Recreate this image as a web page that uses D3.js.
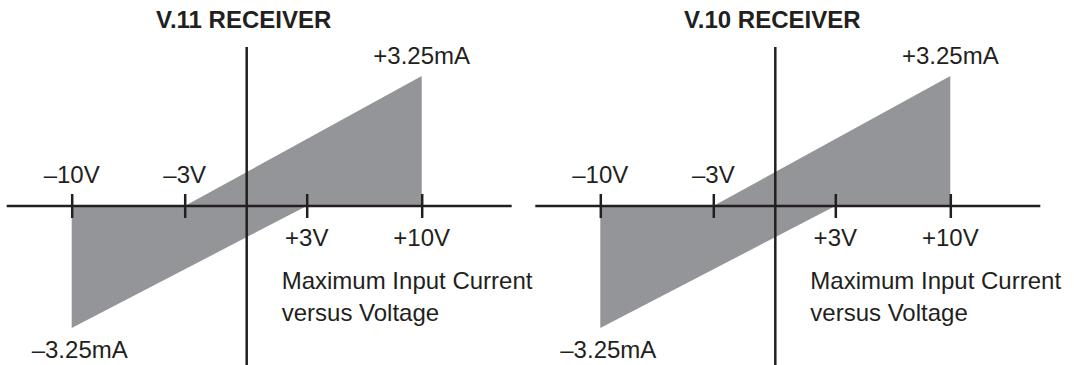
<!DOCTYPE html>
<html>
<head>
<meta charset="utf-8">
<script src="https://cdn.jsdelivr.net/npm/d3@7"></script>
<style>
  body { margin: 0; background: #fff; }
  text { font-family: "Liberation Sans", Arial, Helvetica, sans-serif; fill: #231f20; }
</style>
</head>
<body>
<div id="chart"></div>
<script>
// Data
const panelTitles = ['V.11 RECEIVER', 'V.10 RECEIVER']
const tickVolts = [-10, -3, 3, 10]
const tickLabels = ['\u201310V', '\u20133V', '+3V', '+10V']
// shaded region: between the line (-3V,0)->(10V,+3.25mA) and (-10V,-3.25mA)->(3V,0)
const regionVolts = [-10, -3, 10, 10, 3, -10]
const regionCurrent = [0, 0, 3.25, 0, 0, -3.25]
const currentMarks = [
  { v: 10, label: '+3.25mA' },
  { v: -10, label: '\u20133.25mA' }
]
const noteLines = ['Maximum Input Current', 'versus Voltage']

function draw() {
  let dimensions = { width: 1074, height: 365 }
  const ink = '#231f20'
  const grey = '#939598'

  const svg = d3.select('#chart')
    .append('svg')
    .attr('width', dimensions.width)
    .attr('height', dimensions.height)

  // the drawing is not to scale: 3V sits further out than 3/10 of 10V
  const xScale = d3.scaleLinear()
    .domain([-10, -3, 0, 3, 10])
    .range([-175, -62, 0, 60, 175])
  const yScale = d3.scaleLinear()
    .domain([-3.25, 0, 3.25])
    .range([328, 206, 76])

  const panelX = [246.7, 775.3]
  const region = regionVolts.map((v, i) => [v, regionCurrent[i]])

  panelTitles.forEach((title, p) => {
    const ctr = svg.append('g')
      .attr('transform', `translate(${panelX[p]}, 0)`)

    // shaded area
    ctr.append('path')
      .datum(region)
      .attr('d', d3.line().x(d => xScale(d[0])).y(d => yScale(d[1])).curve(d3.curveLinearClosed))
      .attr('fill', grey)

    // horizontal axis
    const y0 = yScale(0)
    ctr.append('line')
      .attr('x1', -240).attr('x2', 265)
      .attr('y1', y0).attr('y2', y0)
      .attr('stroke', ink).attr('stroke-width', 2.5)
    // vertical axis
    ctr.append('line')
      .attr('x1', xScale(0)).attr('x2', xScale(0))
      .attr('y1', 47).attr('y2', 365)
      .attr('stroke', ink).attr('stroke-width', 2.5)

    // tick marks crossing the axis
    const axis = d3.axisBottom(xScale)
      .tickValues(tickVolts)
      .tickSize(24)
      .tickFormat('')
    const ax = ctr.append('g')
      .attr('transform', `translate(0, ${y0 - 12})`)
      .call(axis)
    ax.select('.domain').remove()
    ax.selectAll('.tick line').attr('stroke', ink).attr('stroke-width', 2.5)

    // tick labels: negatives above, positives below
    ctr.selectAll('.vlabel')
      .data(tickVolts)
      .join('text')
      .attr('class', 'vlabel')
      .attr('x', d => xScale(d))
      .attr('y', d => d < 0 ? y0 - 23 : y0 + 40)
      .attr('text-anchor', 'middle')
      .attr('font-size', 24)
      .text((d, i) => tickLabels[i])

    // current labels at the corners
    ctr.selectAll('.ilabel')
      .data(currentMarks)
      .join('text')
      .attr('class', 'ilabel')
      .attr('x', d => xScale(d.v) + (d.v < 0 ? 8 : 0))
      .attr('y', d => d.v > 0 ? yScale(3.25) - 12 : yScale(-3.25) + 30)
      .attr('text-anchor', 'middle')
      .attr('font-size', 24)
      .text(d => d.label)

    // note
    ctr.selectAll('.note')
      .data(noteLines)
      .join('text')
      .attr('class', 'note')
      .attr('x', 35)
      .attr('y', (d, i) => 289 + i * 32)
      .attr('font-size', 24)
      .text(d => d)

    // title
    ctr.append('text')
      .attr('x', -3)
      .attr('y', 28)
      .attr('text-anchor', 'middle')
      .attr('font-size', 24)
      .attr('font-weight', 'bold')
      .text(title)
  })
}

draw()
</script>
</body>
</html>
